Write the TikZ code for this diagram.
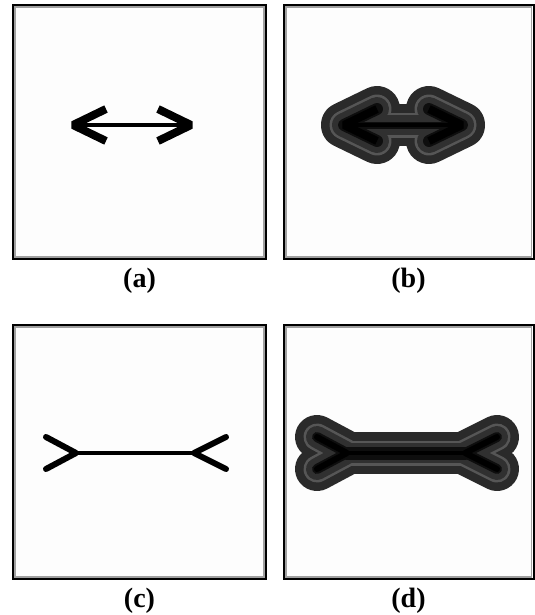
\documentclass[tikz,border=0pt]{standalone}
\usepackage{fontspec}
\setmainfont{Liberation Serif}
\definecolor{haloOuter}{HTML}{2A2A2A}
\definecolor{haloRing}{HTML}{565656}
\definecolor{haloInner}{HTML}{303030}
\definecolor{haloCore}{HTML}{0E0E0E}
\definecolor{frameShade}{HTML}{A0A0A0}
\definecolor{paper}{HTML}{FDFDFD}

% double-headed arrow; #1/#2 = extra stroke width (px) of shaft/heads, #3 = draw options
\newcommand{\dblarrow}[3]{%
  \draw[#3, line width={(4+#1)*0.75pt}] (72,125) -- (192,125);
  \draw[#3, line width={(8+#2)*0.75pt}] (106,109) -- (73,125) -- (106,141);
  \draw[#3, line width={(8+#2)*0.75pt}] (158,109) -- (191,125) -- (158,141);
}
% bar with forked ends; #1/#2 = extra stroke width (px) of bar/forks, #3 = draw options
\newcommand{\forkbar}[3]{%
  \draw[#3, line width={(4+#1)*0.75pt}] (76,453) -- (194,453);
  \draw[#3, line width={(6+#2)*0.75pt}] (46,437) -- (76,453) -- (46,469);
  \draw[#3, line width={(6+#2)*0.75pt}] (226,437) -- (194,453) -- (226,469);
}

\begin{document}
\begin{tikzpicture}[x=0.75pt,y=-0.75pt,
  panel/.style={draw=black, line width=1.5pt, fill=paper},
  panelshade/.style={draw=frameShade, line width=1.1pt},
  caption/.style={font=\fontsize{21}{25}\selectfont\bfseries, inner sep=0pt},
  halo/.style={line cap=round, line join=round},
  core/.style={black, line cap=butt, line join=bevel}]

\useasboundingbox[fill=white] (0,0) rectangle (535,615);

% panel frames
\foreach \px/\py/\qx/\qy in {13/5/266/259, 284/5/533.5/259, 13/325/266/579, 284/325/533.5/579}{
  \draw[panel] (\px,\py) rectangle (\qx,\qy);
  \draw[panelshade] (\px+2,\py+2) rectangle (\qx-2,\qy-2);
}

% (a) plain arrow
\dblarrow{0}{0}{core}

% (b) arrow with its distance halo
\begin{scope}[shift={(271,0)}]
  \dblarrow{38}{38}{halo, haloOuter}
  \dblarrow{21}{21}{halo, haloRing}
  \dblarrow{16}{16}{halo, haloInner}
  \dblarrow{3}{4}{halo, haloCore}
  \dblarrow{0}{0}{core}
\end{scope}

% (c) forked bar
\forkbar{0}{0}{black, line cap=round, line join=round}

% (d) forked bar with its distance halo
\begin{scope}[shift={(271,0)}]
  \forkbar{38}{38}{halo, haloOuter}
  \forkbar{21}{21}{halo, haloRing}
  \forkbar{16}{16}{halo, haloInner}
  \forkbar{9}{4}{halo, haloCore}
  \forkbar{0}{0}{black, line cap=round, line join=round}
\end{scope}

% captions
\node[caption] (capA) at (139.5,280.5) {(a)};
\node[caption] (capB) at (408.5,280.5) {(b)};
\node[caption] (capC) at (139.5,600.5) {(c)};
\node[caption] (capD) at (408.5,600.5) {(d)};
\end{tikzpicture}
\end{document}
